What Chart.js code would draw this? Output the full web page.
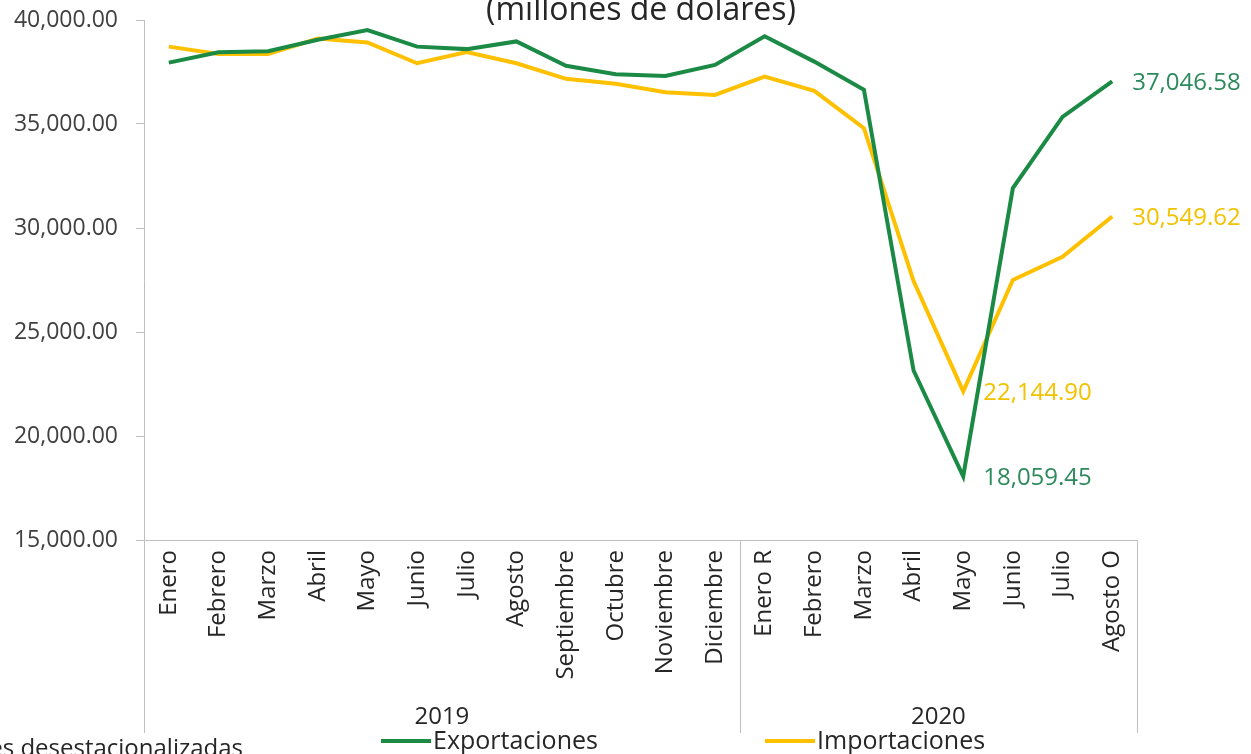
<!DOCTYPE html>
<html>
<head>
<meta charset="utf-8">
<script src="https://cdn.jsdelivr.net/npm/chart.js@4.4.1/dist/chart.umd.min.js"></script>
<style>
  html, body { margin: 0; padding: 0; background: #ffffff; overflow: hidden; }
  #wrap { position: relative; width: 1251px; height: 754px; }
</style>
</head>
<body>
<div id="wrap"><canvas id="comercio_data" width="1251" height="754"></canvas></div>
<script>
// meses (2019: Enero..Diciembre, 2020: Enero R..Agosto O)
var meses = ['Enero', 'Febrero', 'Marzo', 'Abril', 'Mayo', 'Junio', 'Julio', 'Agosto',
    'Septiembre', 'Octubre', 'Noviembre', 'Diciembre',
    'Enero R', 'Febrero', 'Marzo', 'Abril', 'Mayo', 'Junio', 'Julio', 'Agosto O'];
var anios = ['2019', '2020'];
var mesesPorAnio = [12, 8];

var exportaciones = [37950, 38450, 38500, 39050, 39520, 38720, 38600, 38970, 37800, 37390, 37310, 37840,
    39220, 38000, 36650, 23150, 18059.45, 31920, 35340, 37046.58];
var importaciones = [38720, 38370, 38360, 39110, 38920, 37920, 38460, 37920, 37170, 36930, 36530, 36400,
    37280, 36590, 34800, 27450, 22144.90, 27500, 28620, 30549.62];

// puntos con etiqueta de valor
var etiquetados = [16, 19];

var yTicks = [15000, 20000, 25000, 30000, 35000, 40000];

var fmt = function(v){
    return v.toLocaleString('en-US', {minimumFractionDigits: 2, maximumFractionDigits: 2});
};

var fuente = "'Open Sans', 'DejaVu Sans', sans-serif";

const extras = {
    id: 'extras',
    afterDraw: function(chart){
        var ctx = chart.ctx;
        var x = chart.scales.x;
        var area = chart.chartArea;
        var paso = (x.right - x.left) / meses.length;
        ctx.save();

        // titulo (cortado arriba)
        ctx.fillStyle = '#262626';
        ctx.font = "32px " + fuente;
        ctx.textAlign = 'center';
        ctx.textBaseline = 'alphabetic';
        ctx.fillText('(millones de dólares)', 641, 20);

        // separadores y años
        ctx.strokeStyle = '#bfbfbf';
        ctx.lineWidth = 1;
        var ini = 0;
        var xs = [x.left];
        for (var i = 0; i < mesesPorAnio.length; i++) {
            ini += mesesPorAnio[i];
            xs.push(x.left + ini * paso);
        }
        xs.forEach(function(px){
            ctx.beginPath();
            ctx.moveTo(Math.round(px) + 0.5, area.bottom);
            ctx.lineTo(Math.round(px) + 0.5, 733);
            ctx.stroke();
        });
        ctx.font = "24px " + fuente;
        ctx.fillStyle = '#262626';
        ctx.textBaseline = 'middle';
        for (var j = 0; j < anios.length; j++) {
            ctx.fillText(anios[j], (xs[j] + xs[j + 1]) / 2, 717);
        }

        // etiquetas de valores
        ctx.font = "24px " + fuente;
        ctx.textAlign = 'left';
        chart.data.datasets.forEach(function(ds, k){
            var meta = chart.getDatasetMeta(k);
            ctx.fillStyle = ds.labelColor;
            etiquetados.forEach(function(idx){
                var pt = meta.data[idx];
                ctx.fillText(fmt(ds.data[idx]), pt.x + 20, pt.y + 2);
            });
        });

        // leyenda
        var leyX = [381, 765];
        ctx.font = "25px " + fuente;
        chart.data.datasets.forEach(function(ds, k){
            ctx.strokeStyle = ds.borderColor;
            ctx.lineWidth = 4;
            ctx.beginPath();
            ctx.moveTo(leyX[k], 741);
            ctx.lineTo(leyX[k] + 50, 741);
            ctx.stroke();
            ctx.fillStyle = '#262626';
            ctx.fillText(ds.label, leyX[k] + 52, 742);
        });

        // nota (cortada a la izquierda)
        ctx.textAlign = 'right';
        ctx.font = "24px " + fuente;
        ctx.fillStyle = '#262626';
        ctx.fillText('Series desestacionalizadas', 243, 749);
        ctx.restore();
    }
};

const dt = {
    labels: meses,
    datasets: [
    {
        label: 'Exportaciones',
        data: exportaciones,
        borderColor: '#1b8a45',
        labelColor: '#2c8a5c',
        borderWidth: 4,
        pointRadius: 0,
        tension: 0,
        fill: false
    },
    {
        label: 'Importaciones',
        data: importaciones,
        borderColor: '#ffc000',
        labelColor: '#f2c200',
        borderWidth: 4,
        pointRadius: 0,
        tension: 0,
        fill: false
    }
    ]
};

const config_comercio = {
    type: 'line',
    data: dt,
    options: {
        responsive: false,
        animation: false,
        devicePixelRatio: 1,
        layout: { padding: { top: 20, right: 114, left: 0, bottom: 0 } },
        plugins: {
            legend: { display: false },
            tooltip: { enabled: false }
        },
        scales: {
            y: {
                min: 15000,
                max: 40000,
                afterFit: function(s){ s.width = 144; s.paddingTop = 0; s.paddingBottom = 0; },
                afterBuildTicks: function(s){ s.ticks = yTicks.map(function(v){ return {value: v}; }); },
                ticks: {
                    callback: function(v){ return fmt(v); },
                    color: '#404040',
                    font: { family: fuente, size: 23 },
                    padding: 18
                },
                grid: { drawOnChartArea: false, tickLength: 8, color: '#bfbfbf' },
                border: { color: '#bfbfbf' }
            },
            x: {
                offset: true,
                afterFit: function(s){ s.height = 214; s.paddingLeft = 0; s.paddingRight = 0; },
                ticks: {
                    autoSkip: false,
                    maxRotation: 90,
                    minRotation: 90,
                    color: '#262626',
                    font: { family: fuente, size: 24 },
                    padding: 10
                },
                grid: { drawOnChartArea: false, drawTicks: false },
                border: { color: '#bfbfbf' }
            }
        }
    },
    plugins: [extras]
};

const comercio_data = new Chart(
    document.getElementById('comercio_data'),
    config_comercio
);
</script>
</body>
</html>
